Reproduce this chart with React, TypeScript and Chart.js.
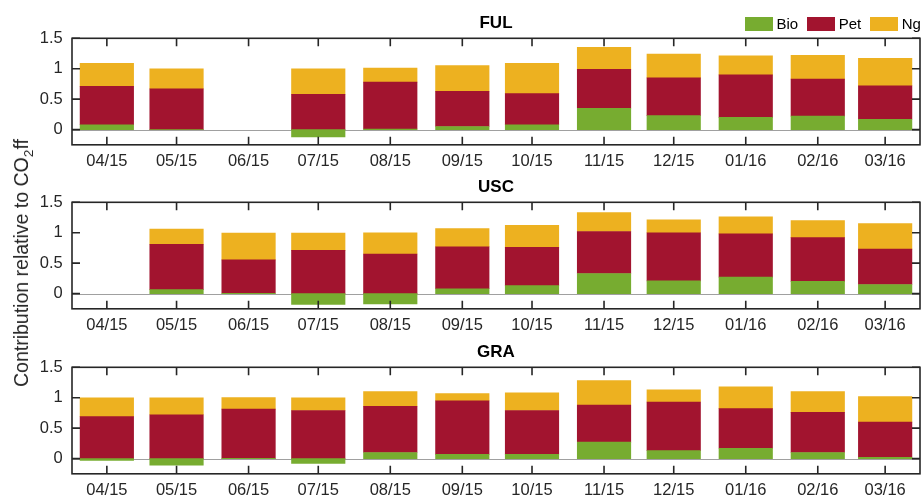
import React, { useEffect, useRef } from 'react';
import { Chart, registerables } from 'chart.js';

Chart.register(...registerables);

// Months shown on every panel (month/year)
const MONTH_LABELS = ['04/15', '05/15', '06/15', '07/15', '08/15', '09/15', '10/15', '11/15', '12/15', '01/16', '02/16', '03/16'];

// Y tick values
const Y_TICKS = [0, 0.5, 1, 1.5];

// FUL site: contributions relative to CO2ff
const FUL_BIO = [0.08, 0, null, -0.12, 0.01, 0.05, 0.08, 0.35, 0.23, 0.2, 0.22, 0.17];
const FUL_PET = [0.63, 0.67, null, 0.58, 0.77, 0.58, 0.51, 0.64, 0.62, 0.7, 0.61, 0.55];
const FUL_NG = [0.38, 0.33, null, 0.42, 0.23, 0.42, 0.5, 0.36, 0.39, 0.31, 0.39, 0.45];

// USC site
const USC_BIO = [null, 0.065, 0.005, -0.18, -0.17, 0.08, 0.13, 0.33, 0.21, 0.27, 0.2, 0.15];
const USC_PET = [null, 0.745, 0.55, 0.71, 0.65, 0.69, 0.63, 0.69, 0.79, 0.71, 0.72, 0.58];
const USC_NG = [null, 0.25, 0.44, 0.285, 0.35, 0.3, 0.36, 0.31, 0.21, 0.28, 0.28, 0.42];

// GRA site
const GRA_BIO = [-0.03, -0.11, 0.003, -0.08, 0.1, 0.07, 0.07, 0.27, 0.13, 0.17, 0.1, 0.02];
const GRA_PET = [0.69, 0.72, 0.81, 0.79, 0.76, 0.88, 0.72, 0.61, 0.8, 0.65, 0.66, 0.58];
const GRA_NG = [0.31, 0.28, 0.19, 0.21, 0.24, 0.12, 0.29, 0.4, 0.2, 0.36, 0.34, 0.42];

const SERIES_NAMES = ['Bio', 'Pet', 'Ng'];
const SERIES_COLORS = ['#77AC30', '#A2142F', '#EDB120'];

// Day offset of each month start from 1 April 2015 (time axis in days)
const DAY_MS = 86400000;
const MONTH_OFFSETS = MONTH_LABELS.map((_, i) => Math.round((Date.UTC(2015, 3 + i, 1) - Date.UTC(2015, 3, 1)) / DAY_MS));
const X_MIN = -15;
const X_MAX = 350;

const FONT = '"Liberation Sans", Arial, Helvetica, sans-serif';
const AXIS_COLOR = '#262626';

// Box around the axes with inward ticks, plus the bar baseline at zero
const axesBoxPlugin = {
  id: 'axesBox',
  beforeDatasetsDraw(chart: any) {
    const { ctx, chartArea: a, scales } = chart;
    const y0 = Math.round(scales.y.getPixelForValue(0)) + 0.5;
    ctx.save();
    ctx.strokeStyle = '#a0a0a0';
    ctx.lineWidth = 1;
    ctx.beginPath();
    ctx.moveTo(a.left, y0);
    ctx.lineTo(a.right, y0);
    ctx.stroke();
    ctx.restore();
  },
  afterDatasetsDraw(chart: any) {
    const { ctx, chartArea: a, scales } = chart;
    const len = 8;
    ctx.save();
    ctx.strokeStyle = AXIS_COLOR;
    ctx.lineWidth = 1.6;
    ctx.beginPath();
    scales.x.ticks.forEach((t: any) => {
      const px = scales.x.getPixelForValue(t.value);
      ctx.moveTo(px, a.top);
      ctx.lineTo(px, a.top + len);
      ctx.moveTo(px, a.bottom);
      ctx.lineTo(px, a.bottom - len);
    });
    scales.y.ticks.forEach((t: any) => {
      const py = scales.y.getPixelForValue(t.value);
      ctx.moveTo(a.left, py);
      ctx.lineTo(a.left + len, py);
      ctx.moveTo(a.right, py);
      ctx.lineTo(a.right - len, py);
    });
    ctx.stroke();
    ctx.strokeRect(a.left, a.top, a.right - a.left, a.bottom - a.top);
    ctx.restore();
  },
};

type PanelProps = {
  title: string;
  top: number;
  bio: (number | null)[];
  pet: (number | null)[];
  ng: (number | null)[];
};

function Panel({ title, top, bio, pet, ng }: PanelProps) {
  const ref = useRef<HTMLCanvasElement | null>(null);

  useEffect(() => {
    if (!ref.current) return;
    const toPoints = (vals: (number | null)[]) =>
      vals.map((v, i) => ({ x: MONTH_OFFSETS[i], y: v }));
    const chart = new Chart(ref.current, {
      type: 'bar',
      data: {
        datasets: [bio, pet, ng].map((vals, k) => ({
          label: SERIES_NAMES[k],
          data: toPoints(vals) as any,
          backgroundColor: SERIES_COLORS[k],
          borderWidth: 0,
          barThickness: 53.5,
        })),
      },
      options: {
        responsive: false,
        animation: false,
        layout: { padding: { left: 0, right: 2, top: 0, bottom: 0 } },
        plugins: {
          legend: { display: false },
          tooltip: { enabled: false },
          title: {
            display: true,
            text: title,
            fullSize: false,
            color: '#000000',
            font: { family: FONT, size: 17, weight: 'bold' },
            padding: { top: 13.1, bottom: 4.8 },
          },
        },
        scales: {
          x: {
            type: 'linear',
            min: X_MIN,
            max: X_MAX,
            offset: false,
            stacked: true,
            grid: { display: false, drawTicks: false },
            border: { display: false },
            afterBuildTicks: (s: any) => {
              s.ticks = MONTH_OFFSETS.map((v) => ({ value: v }));
            },
            afterFit: (s: any) => {
              s.height = 35.2;
            },
            ticks: {
              autoSkip: false,
              maxRotation: 0,
              padding: 7,
              color: AXIS_COLOR,
              font: { family: FONT, size: 16.5 },
              callback: (v: any) => MONTH_LABELS[MONTH_OFFSETS.indexOf(v)] ?? '',
            },
          },
          y: {
            min: -0.25,
            max: 1.5,
            stacked: true,
            grid: { display: false, drawTicks: false },
            border: { display: false },
            afterBuildTicks: (s: any) => {
              s.ticks = Y_TICKS.map((v) => ({ value: v }));
            },
            afterFit: (s: any) => {
              s.width = 72;
            },
            ticks: {
              padding: 9.3,
              color: AXIS_COLOR,
              font: { family: FONT, size: 16.5 },
              callback: (v: any) => String(v),
            },
          },
        },
      },
      plugins: [axesBoxPlugin],
    });
    return () => chart.destroy();
  }, [title, bio, pet, ng]);

  return (
    <canvas
      ref={ref}
      width={922}
      height={180}
      style={{ position: 'absolute', left: 0, top, width: 922, height: 180 }}
    />
  );
}

function Legend() {
  return (
    <div
      style={{
        position: 'absolute',
        left: 745,
        top: 16.7,
        display: 'flex',
        alignItems: 'center',
        fontFamily: FONT,
        fontSize: 15,
        color: '#000',
        lineHeight: '14px',
      }}
    >
      {SERIES_NAMES.map((name, k) => (
        <div key={name} style={{ display: 'flex', alignItems: 'center', marginRight: 9 }}>
          <span style={{ display: 'inline-block', width: 28, height: 14, background: SERIES_COLORS[k] }} />
          <span style={{ marginLeft: 3.5 }}>{name}</span>
        </div>
      ))}
    </div>
  );
}

export default function App() {
  return (
    <div
      style={{
        position: 'absolute',
        left: 0,
        top: 0,
        width: 922,
        height: 498,
        overflow: 'hidden',
        background: '#ffffff',
        fontFamily: FONT,
      }}
    >
      <Panel title="FUL" top={0} bio={FUL_BIO} pet={FUL_PET} ng={FUL_NG} />
      <Panel title="USC" top={164} bio={USC_BIO} pet={USC_PET} ng={USC_NG} />
      <Panel title="GRA" top={329} bio={GRA_BIO} pet={GRA_PET} ng={GRA_NG} />
      <Legend />
      <div
        style={{
          position: 'absolute',
          left: 20.5,
          top: 263,
          transform: 'translate(-50%, -50%) rotate(-90deg)',
          whiteSpace: 'nowrap',
          fontSize: 19.5,
          color: '#262626',
          lineHeight: '22px',
        }}
      >
        Contribution relative to CO<sub style={{ fontSize: '70%', lineHeight: 0 }}>2</sub>ff
      </div>
    </div>
  );
}
